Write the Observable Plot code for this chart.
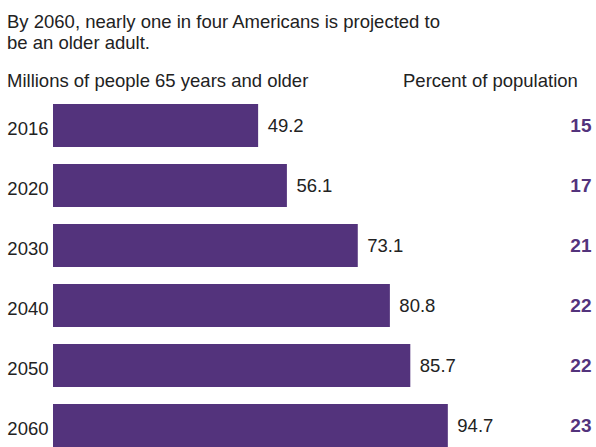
<!DOCTYPE html>
<html>
<head>
<meta charset="utf-8">
<script src="https://cdn.jsdelivr.net/npm/d3@7"></script>
<script src="https://cdn.jsdelivr.net/npm/@observablehq/plot@0.6"></script>
<style>
html, body { margin: 0; padding: 0; background: #fff; overflow: hidden; }
body { width: 596px; height: 447px; position: relative; font-family: "Liberation Sans", Arial, Helvetica, sans-serif; color: #222; }
#title { position: absolute; left: 7px; top: 10.5px; font-size: 18.5px; line-height: 21.5px; white-space: nowrap; }
.hdr { position: absolute; top: 71px; font-size: 18.5px; line-height: 20.5px; white-space: nowrap; }
#chart { position: absolute; left: 0; top: 95px; }
</style>
</head>
<body>
<div id="title">By 2060, nearly one in four Americans is projected to<br>be an older adult.</div>
<div class="hdr" style="left:7px">Millions of people 65 years and older</div>
<div class="hdr" style="left:403px">Percent of population</div>
<div id="chart"></div>
<script>
const years = ["2016", "2020", "2030", "2040", "2050", "2060"];
const millions = [49.2, 56.1, 73.1, 80.8, 85.7, 94.7];
const percents = [15, 17, 21, 22, 22, 23];

const purple = "#53337c";
const data = years.map((y, i) => ({year: y, value: millions[i], pct: percents[i]}));

const chart = Plot.plot({
  width: 596,
  height: 356,
  marginTop: 7,
  marginBottom: 1,
  marginLeft: 53,
  marginRight: 1,
  style: {fontFamily: '"Liberation Sans", Arial, Helvetica, sans-serif', color: "#222", background: "transparent", overflow: "visible"},
  x: {domain: [0, 130], axis: null},
  y: {domain: years, paddingInner: 0.276, paddingOuter: 0, label: null},
  marks: [
    Plot.barX(data, {x: "value", y: "year", fill: purple}),
    Plot.axisY({tickSize: 0, tickPadding: 5, fontSize: 18.5, dy: 3, label: null, fill: "#222"}),
    Plot.text(data, {x: "value", y: "year", text: d => d.value.toFixed(1), textAnchor: "start", dx: 9, fontSize: 18.5, fill: "#222"}),
    Plot.text(data, {y: "year", text: d => String(d.pct), frameAnchor: "right", textAnchor: "end", dx: -4, fontSize: 19, fontWeight: "bold", fill: purple})
  ]
});
document.getElementById("chart").appendChild(chart);
</script>
</body>
</html>
